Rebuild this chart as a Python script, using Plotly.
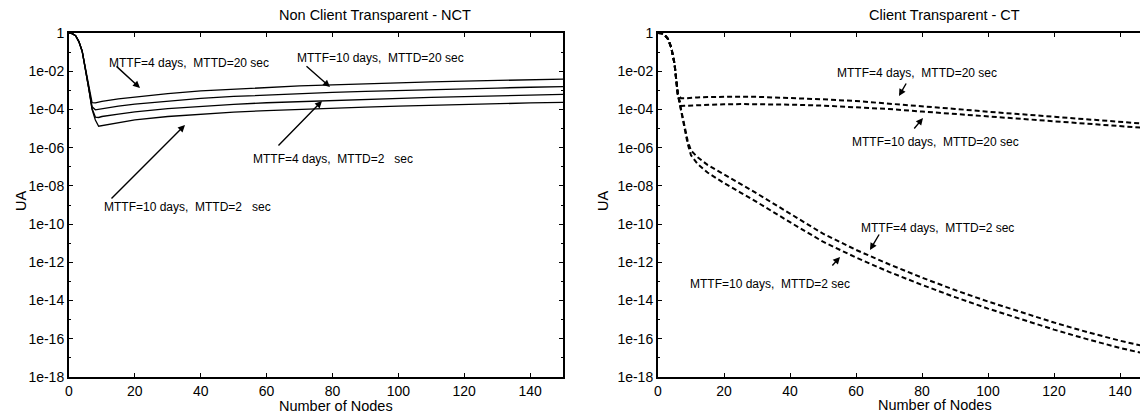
import plotly.graph_objects as go

# ---------------- data ----------------
nct_nodes = [0, 1, 2, 3, 4, 5, 6, 7, 8, 9, 10, 15, 20, 30, 40, 50, 60, 70, 80, 90, 100, 110, 120, 130, 140, 150]
nct_early = [1.0, 0.933, 0.724, 0.355, 0.112, 0.0141, 1.26e-3]
nct_4d_20s = nct_early + [2.29e-4, 2.19e-4, 2.40e-4, 2.63e-4, 3.55e-4, 4.47e-4, 6.76e-4, 9.33e-4, 1.17e-3, 1.45e-3,
                          1.70e-3, 1.95e-3, 2.24e-3, 2.51e-3, 2.75e-3, 3.02e-3, 3.31e-3, 3.63e-3, 3.89e-3]
nct_10d_20s = nct_early + [1.41e-4, 9.55e-5, 1.02e-4, 1.12e-4, 1.51e-4, 1.91e-4, 2.82e-4, 3.80e-4, 4.79e-4, 5.75e-4,
                           6.61e-4, 7.76e-4, 8.91e-4, 1.0e-3, 1.10e-3, 1.20e-3, 1.32e-3, 1.45e-3, 1.55e-3]
nct_4d_2s = nct_early + [1.12e-4, 3.98e-5, 3.80e-5, 4.27e-5, 5.62e-5, 7.41e-5, 1.10e-4, 1.48e-4, 1.86e-4, 2.24e-4,
                         2.57e-4, 3.02e-4, 3.47e-4, 3.89e-4, 4.27e-4, 4.68e-4, 5.13e-4, 5.62e-4, 6.17e-4]
nct_10d_2s = nct_early + [1.0e-4, 2.82e-5, 1.32e-5, 1.41e-5, 2.09e-5, 2.82e-5, 4.27e-5, 5.75e-5, 7.24e-5, 8.71e-5,
                          1.02e-4, 1.17e-4, 1.32e-4, 1.48e-4, 1.66e-4, 1.82e-4, 2.0e-4, 2.19e-4, 2.34e-4]

ct_nodes = [0, 1, 2, 3, 4, 5, 6, 7, 8, 9, 10, 12, 15, 20, 25, 30, 40, 50, 60, 70, 80, 90, 100, 110, 120, 130, 140, 150]
ct_early = [1.0, 0.977, 0.794, 0.501, 0.178, 0.0251, 6.31e-4]
ct_4d_20s = ct_early + [3.80e-4, 3.80e-4, 3.98e-4, 4.07e-4, 4.27e-4, 4.47e-4, 4.68e-4, 4.68e-4, 4.57e-4, 3.98e-4,
                        3.39e-4, 2.75e-4, 2.04e-4, 1.48e-4, 1.07e-4, 7.59e-5, 5.62e-5, 4.17e-5, 3.09e-5, 2.29e-5, 1.66e-5]
ct_10d_20s = ct_early + [1.51e-4, 1.55e-4, 1.58e-4, 1.62e-4, 1.70e-4, 1.78e-4, 1.86e-4, 1.91e-4, 1.91e-4, 1.78e-4,
                         1.58e-4, 1.32e-4, 1.05e-4, 7.76e-5, 5.75e-5, 4.27e-5, 3.16e-5, 2.40e-5, 1.78e-5, 1.35e-5, 1.0e-5]
ct_4d_2s = ct_early + [1.0e-4, 1.41e-5, 2.24e-6, 7.08e-7, 3.16e-7, 1.26e-7, 3.98e-8, 1.26e-8, 3.98e-9, 3.55e-10,
                       3.16e-11, 4.47e-12, 7.94e-13, 1.58e-13, 3.55e-14, 8.91e-15, 2.51e-15, 7.08e-16, 2.24e-16,
                       7.94e-17, 3.16e-17]
ct_10d_2s = ct_early + [8.91e-5, 1.12e-5, 1.58e-6, 3.98e-7, 1.41e-7, 5.01e-8, 1.41e-8, 4.47e-9, 1.41e-9, 1.26e-10,
                        1.20e-11, 1.78e-12, 3.16e-13, 6.61e-14, 1.51e-14, 3.80e-15, 1.07e-15, 3.02e-16, 9.55e-17,
                        3.31e-17, 1.32e-17]

y_tickvals = [1, 1e-2, 1e-4, 1e-6, 1e-8, 1e-10, 1e-12, 1e-14, 1e-16, 1e-18]
y_ticktext = ["1", "1e-02", "1e-04", "1e-06", "1e-08", "1e-10", "1e-12", "1e-14", "1e-16", "1e-18"]
y_minorvals = [1e-1, 1e-3, 1e-5, 1e-7, 1e-9, 1e-11, 1e-13, 1e-15, 1e-17]
x_tickvals = [0, 20, 40, 60, 80, 100, 120, 140]

# ---------------- layout geometry ----------------
# the page body has an 8px margin, so the figure is shrunk by it and all
# reference pixel positions are shifted by OFF
OFF = 8
W, H = 1148 - OFF, 420 - OFF
L, R, T, B = 69 - OFF, 0, 33 - OFF, 43
PW, PH = W - L - R, H - T - B
FONT = "Liberation Sans, Arial, sans-serif"


def px(xp, yp):
    return (xp - OFF - L) / PW, (H - B - (yp - OFF)) / PH


fig = go.Figure()

for ys in [nct_4d_20s, nct_10d_20s, nct_4d_2s, nct_10d_2s]:
    fig.add_trace(go.Scatter(x=nct_nodes, y=ys, mode="lines", xaxis="x", yaxis="y",
                             line=dict(color="black", width=1.3), showlegend=False))

for ys in [ct_4d_20s, ct_10d_20s, ct_4d_2s, ct_10d_2s]:
    fig.add_trace(go.Scatter(x=ct_nodes, y=ys, mode="lines", xaxis="x2", yaxis="y2",
                             line=dict(color="black", width=2, dash="5px,3px"), showlegend=False))

axis_common = dict(showgrid=False, zeroline=False, showline=True, linecolor="black", linewidth=2,
                   ticks="inside", ticklen=4, tickwidth=1.3, tickcolor="black",
                   tickfont=dict(family=FONT, size=14, color="black"))

yaxis_common = dict(axis_common, type="log", range=[-18, 0], tickmode="array",
                    tickvals=y_tickvals, ticktext=y_ticktext,
                    minor=dict(tickmode="array", tickvals=y_minorvals, ticks="inside", ticklen=2,
                               tickwidth=1, tickcolor="black"))

fig.update_layout(
    width=W, height=H,
    margin=dict(l=L, r=R, t=T, b=B, pad=0),
    paper_bgcolor="white", plot_bgcolor="white",
    font=dict(family=FONT, size=14, color="black"),
    xaxis=dict(axis_common, domain=[0, 494 / PW], range=[0, 150], mirror="ticks",
               tickmode="array", tickvals=x_tickvals, anchor="y"),
    yaxis=dict(yaxis_common, mirror="ticks", anchor="x"),
    xaxis2=dict(axis_common, domain=[(658 - OFF - L) / PW, 1.0], range=[0, (1148 - 658) / 3.3], mirror="ticks",
                tickmode="array", tickvals=x_tickvals, anchor="y2"),
    yaxis2=dict(yaxis_common, mirror=False, anchor="x2"),
)

annotations = []


def text_at(xp, yp, txt, size=12, angle=0):
    xx, yy = px(xp, yp)
    annotations.append(dict(x=xx, y=yy, xref="paper", yref="paper", text=txt, showarrow=False,
                            xanchor="center", yanchor="middle", textangle=angle,
                            font=dict(family=FONT, size=size, color="black")))


def arrow(tail, tip):
    xx, yy = px(*tip)
    annotations.append(dict(x=xx, y=yy, xref="paper", yref="paper", text="", showarrow=True,
                            ax=tail[0] - tip[0], ay=tail[1] - tip[1], axref="pixel", ayref="pixel",
                            arrowhead=2, arrowsize=1.0, arrowwidth=1.4, arrowcolor="black", standoff=0))


sp = "\u00a0"
# titles and axis labels
text_at(374.5, 15, "Non Client Transparent - NCT", size=14.5)
text_at(944.5, 15, "Client Transparent - CT", size=14.5)
text_at(335.5, 406, "Number of Nodes", size=14.5)
text_at(934.5, 405, "Number of Nodes", size=14.5)
text_at(21, 201, "UA", size=14.5, angle=-90)
text_at(603, 201, "UA", size=14.5, angle=-90)

# left panel labels
text_at(189, 63, "MTTF=4 days," + sp + " MTTD=20 sec")
arrow((115, 65), (140, 88))
text_at(380.5, 58, "MTTF=10 days," + sp + " MTTD=20 sec")
arrow((305, 65), (330, 87))
text_at(333, 159, "MTTF=4 days," + sp + " MTTD=2" + sp + sp + " sec")
arrow((277, 147), (322, 101))
text_at(187, 207, "MTTF=10 days," + sp + " MTTD=2" + sp + sp + " sec")
arrow((110, 200), (185, 125))

# right panel labels
text_at(916.5, 73, "MTTF=4 days," + sp + " MTTD=20 sec")
arrow((907, 82), (899, 96))
text_at(935, 142, "MTTF=10 days," + sp + " MTTD=20 sec")
arrow((913, 130), (923, 118))
text_at(937, 228, "MTTF=4 days," + sp + " MTTD=2 sec")
arrow((880, 233), (870, 250))
text_at(770, 284, "MTTF=10 days," + sp + " MTTD=2 sec")
arrow((831, 267), (840, 257))

fig.update_layout(annotations=annotations)

fig.write_html("out.html")
